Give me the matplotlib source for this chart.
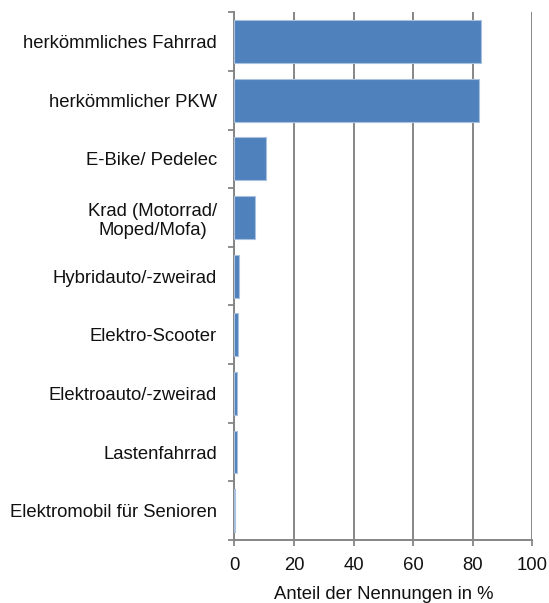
import matplotlib
matplotlib.use("Agg")
import matplotlib.pyplot as plt
import numpy as np

categories = ["herkömmliches Fahrrad", "herkömmlicher PKW", "E-Bike/ Pedelec",
              "Krad (Motorrad/\nMoped/Mofa)", "Hybridauto/-zweirad", "Elektro-Scooter",
              "Elektroauto/-zweirad", "Lastenfahrrad", "Elektromobil für Senioren"]
values = [82.9, 82.2, 10.5, 6.8, 1.5, 1.1, 0.9, 0.8, 0.3]
xticks = [0, 20, 40, 60, 80, 100]
xlabel = "Anteil der Nennungen in %"

plt.rcParams['font.family'] = ['Liberation Sans', 'DejaVu Sans']
gray = '#868686'

fig = plt.figure(figsize=(5.49, 6.03), dpi=100)
ax = fig.add_axes([0.4268, 0.1045, 0.9696 - 0.4268, 0.9796 - 0.1045])

n = len(categories)
y = np.arange(n)
ax.barh(y, values, height=0.73, color='#4F81BD', edgecolor='#A9C0DF', linewidth=0.8, zorder=3)
ax.set_ylim(n - 0.5, -0.5)
ax.set_xlim(0, 100)

ax.set_xticks(xticks)
ax.set_xticklabels([str(t) for t in xticks], fontsize=13.3, color='#111111')
ax.set_yticks(y)
ax.set_yticklabels(categories, fontsize=13.3, color='#111111', ha='right',
                   multialignment='center')
ax.set_yticks(np.arange(n + 1) - 0.5, minor=True)
ax.tick_params(axis='y', which='major', length=0, pad=12.5)
ax.tick_params(axis='y', which='minor', length=4, width=1.3, color=gray)
ax.tick_params(axis='x', which='major', length=4, width=1.3, color=gray, pad=8)

ax.xaxis.grid(True, color=gray, linewidth=1.4, zorder=0)
ax.set_axisbelow(True)
for s in ['top', 'right']:
    ax.spines[s].set_visible(False)
for s in ['left', 'bottom']:
    ax.spines[s].set_color(gray)
    ax.spines[s].set_linewidth(1.4)

ax.set_xlabel(xlabel, fontsize=13.3, color='#111111', labelpad=9)

fig.savefig("out.png", dpi=100)
